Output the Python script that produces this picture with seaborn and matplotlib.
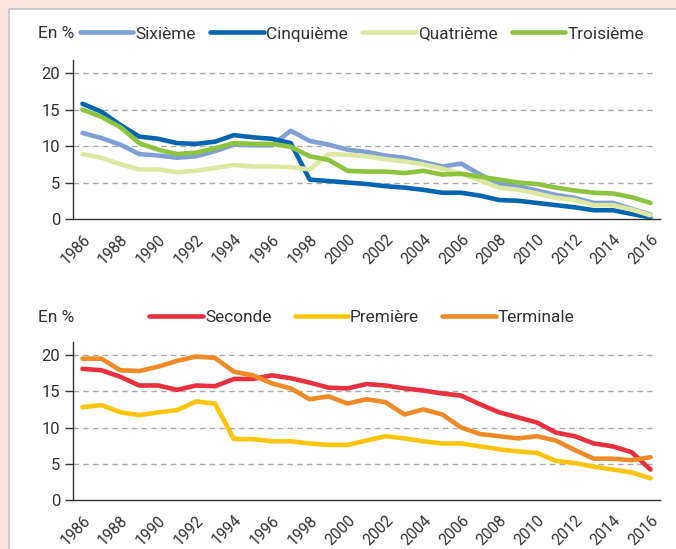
import numpy as np
import pandas as pd
import matplotlib
matplotlib.use("Agg")
import matplotlib.pyplot as plt
from matplotlib.patches import Rectangle
from matplotlib import font_manager
import seaborn as sns

years = list(range(1986, 2017))

sixieme = [11.8, 11.1, 10.2, 8.9, 8.7, 8.4, 8.6, 9.3, 10.2, 10.1, 10.1, 12.1, 10.7, 10.2,
           9.5, 9.2, 8.7, 8.4, 7.8, 7.2, 7.6, 6.1, 4.8, 4.5, 3.9, 3.3, 2.9, 2.2, 2.2, 1.4, 0.6]
cinquieme = [15.8, 14.7, 12.9, 11.3, 11.0, 10.4, 10.3, 10.6, 11.5, 11.2, 11.0, 10.4, 5.4, 5.2,
             5.0, 4.8, 4.5, 4.3, 4.0, 3.6, 3.6, 3.2, 2.6, 2.5, 2.2, 1.9, 1.6, 1.2, 1.2, 0.7, 0.2]
quatrieme = [8.9, 8.4, 7.5, 6.8, 6.8, 6.4, 6.6, 7.0, 7.4, 7.2, 7.2, 7.1, 6.8, 8.9,
             8.8, 8.6, 8.2, 7.9, 7.5, 6.9, 6.2, 5.3, 4.3, 4.0, 3.5, 2.9, 2.6, 1.9, 1.9, 1.3, 0.5]
troisieme = [15.0, 14.0, 12.6, 10.4, 9.5, 8.9, 9.1, 9.7, 10.4, 10.3, 10.3, 9.9, 8.6, 8.1,
             6.6, 6.5, 6.5, 6.3, 6.6, 6.1, 6.2, 5.8, 5.4, 5.0, 4.8, 4.3, 3.9, 3.6, 3.5, 3.0, 2.2]

seconde = [18.1, 17.9, 17.0, 15.8, 15.8, 15.2, 15.8, 15.7, 16.7, 16.7, 17.2, 16.8, 16.2, 15.5,
           15.4, 16.0, 15.8, 15.4, 15.1, 14.7, 14.4, 13.2, 12.1, 11.4, 10.7, 9.3, 8.8, 7.8, 7.4, 6.6, 4.2]
premiere = [12.8, 13.1, 12.1, 11.7, 12.1, 12.4, 13.6, 13.3, 8.4, 8.4, 8.1, 8.1, 7.8, 7.6,
            7.6, 8.2, 8.8, 8.5, 8.1, 7.8, 7.8, 7.4, 7.0, 6.7, 6.5, 5.4, 5.1, 4.6, 4.2, 3.8, 3.0]
terminale = [19.5, 19.5, 17.9, 17.8, 18.4, 19.2, 19.8, 19.6, 17.7, 17.2, 16.1, 15.4, 13.9, 14.3,
             13.3, 13.9, 13.5, 11.8, 12.5, 11.8, 10.0, 9.1, 8.8, 8.5, 8.8, 8.2, 6.9, 5.7, 5.7, 5.5, 5.9]

top_names = ["Sixième", "Cinquième", "Quatrième", "Troisième"]
top_colors = ["#7fa0d6", "#0565b0", "#dde9a2", "#8cc43e"]
bot_names = ["Seconde", "Première", "Terminale"]
bot_colors = ["#e9303f", "#fcc50c", "#f08a27"]

installed = {f.name for f in font_manager.fontManager.ttflist}
FONT = [f for f in ["Liberation Sans Narrow", "Roboto", "DejaVu Sans"] if f in installed] or ["DejaVu Sans"]
TXT = "#333333"

sns.set_theme(style="white")
plt.rcParams["font.family"] = FONT
plt.rcParams["text.color"] = TXT
plt.rcParams["axes.labelcolor"] = TXT
plt.rcParams["xtick.color"] = "#333333"
plt.rcParams["ytick.color"] = "#333333"

fig = plt.figure(figsize=(6.76, 5.49), dpi=100)
fig.patch.set_facecolor("#fce5df")
panel = Rectangle((8.5 / 676, -0.01), 1.0, (549 - 8.5) / 549 + 0.01, transform=fig.transFigure,
                  facecolor="white", edgecolor="#c4c4c4", linewidth=1.2, zorder=-10)
fig.patches.append(panel)


def long_df(names, series):
    rows = []
    for n, s in zip(names, series):
        for y, v in zip(years, s):
            rows.append({"year": y, "value": v, "serie": n})
    return pd.DataFrame(rows)


def style_axes(ax):
    ax.set_facecolor("none")
    ax.set_xlim(1985.5, 2016.5)
    ax.set_ylim(0, 21.8)
    ax.set_yticks([0, 5, 10, 15, 20])
    ax.set_yticklabels(["0", "5", "10", "15", "20"], fontsize=12, color=TXT)
    for yv in [5, 10, 15, 20]:
        ax.axhline(yv, xmin=0, xmax=0.992, color="#a9a9a9", lw=1.0, ls=(0, (4, 3)), zorder=1)
    ax.set_xticks(years[::2])
    ax.set_xticklabels([str(y) for y in years[::2]], rotation=45, ha="right",
                       rotation_mode="anchor", fontsize=11.2, color=TXT)
    ax.set_xticks(np.arange(1985.5, 2017, 1.0), minor=True)
    ax.tick_params(axis="x", which="major", length=0, pad=9)
    ax.tick_params(axis="x", which="minor", length=6, width=1.0, color="#333333", direction="out")
    ax.tick_params(axis="y", which="major", length=6, width=1.0, color="#333333",
                   direction="out", pad=3, left=True)
    for s in ["top", "right"]:
        ax.spines[s].set_visible(False)
    for s in ["left", "bottom"]:
        ax.spines[s].set_color("#333333")
        ax.spines[s].set_linewidth(1.0)
    ax.set_xlabel("")
    ax.set_ylabel("")
    ax.grid(False)


# Top chart
ax1 = fig.add_axes([73 / 676, (549 - 219) / 549, 587 / 676, 159 / 549])
df1 = long_df(top_names, [sixieme, cinquieme, quatrieme, troisieme])
sns.lineplot(data=df1, x="year", y="value", hue="serie", hue_order=top_names,
             palette=top_colors, linewidth=3.3, ax=ax1, zorder=3,
             solid_capstyle="round", solid_joinstyle="round")
style_axes(ax1)
h, l = ax1.get_legend_handles_labels()
ax1.legend(h, l, loc="center", bbox_to_anchor=(362 / 676, 1 - 34 / 549), bbox_transform=fig.transFigure,
           ncol=4, frameon=False, fontsize=12.4, handlelength=3.1, handletextpad=0.12,
           columnspacing=0.85, borderpad=0, labelcolor=TXT)
fig.text(38 / 676, 1 - 34 / 549, "En %", fontsize=12.5, va="center", ha="left", color=TXT)

# Bottom chart
ax2 = fig.add_axes([73 / 676, (549 - 500) / 549, 587 / 676, 158 / 549])
df2 = long_df(bot_names, [seconde, premiere, terminale])
sns.lineplot(data=df2, x="year", y="value", hue="serie", hue_order=bot_names,
             palette=bot_colors, linewidth=3.3, ax=ax2, zorder=3,
             solid_capstyle="round", solid_joinstyle="round")
style_axes(ax2)
h, l = ax2.get_legend_handles_labels()
ax2.legend(h, l, loc="center", bbox_to_anchor=(362 / 676, 1 - 317 / 549), bbox_transform=fig.transFigure,
           ncol=3, frameon=False, fontsize=12.4, handlelength=3.1, handletextpad=0.12,
           columnspacing=1.35, borderpad=0, labelcolor=TXT)
fig.text(38 / 676, 1 - 317 / 549, "En %", fontsize=12.5, va="center", ha="left", color=TXT)

fig.savefig("out.png", dpi=100, facecolor=fig.get_facecolor())
